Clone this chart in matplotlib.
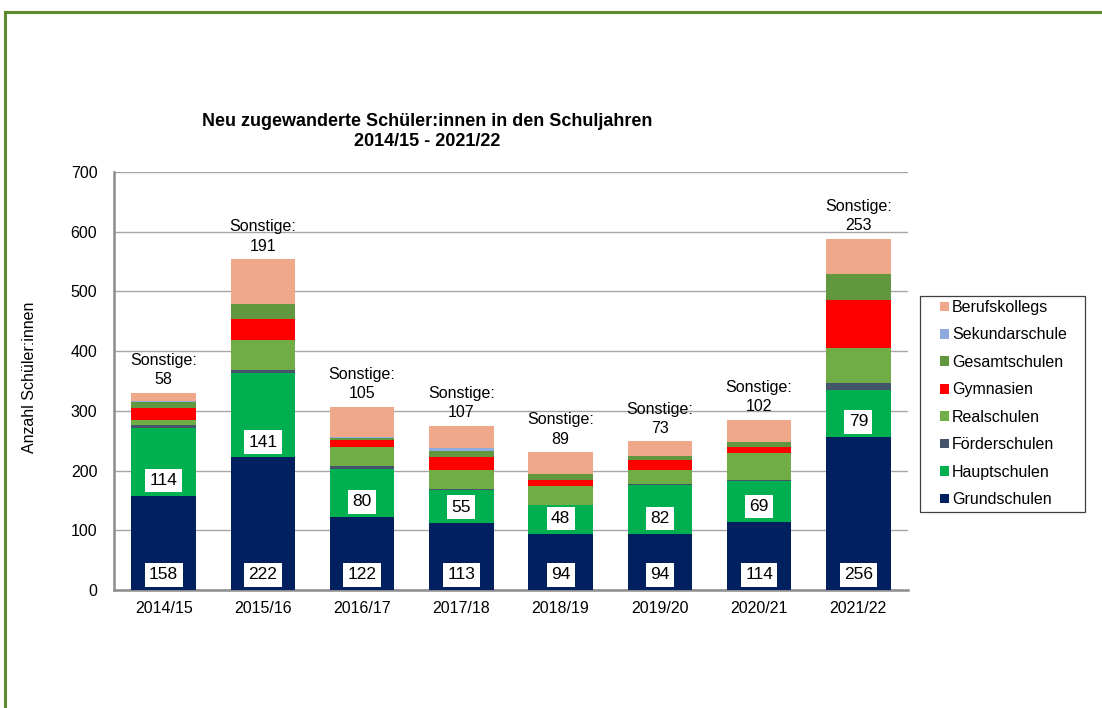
import matplotlib
matplotlib.use("Agg")
import matplotlib.pyplot as plt
from matplotlib.patches import Patch, Rectangle
from matplotlib.lines import Line2D
import numpy as np

plt.rcParams["font.family"] = ["Liberation Sans", "DejaVu Sans"]

# Schuljahre und Schülerzahlen je Schulform
years = ["2014/15", "2015/16", "2016/17", "2017/18", "2018/19", "2019/20", "2020/21", "2021/22"]
grundschulen = [158, 222, 122, 113, 94, 94, 114, 256]
hauptschulen = [114, 141, 80, 55, 48, 82, 69, 79]
foerderschulen = [4, 6, 5, 1, 1, 2, 1, 12]
realschulen = [8, 50, 33, 32, 31, 23, 46, 59]
gymnasien = [20, 35, 11, 22, 10, 16, 10, 80]
gesamtschulen = [10, 25, 4, 10, 10, 7, 8, 43]
sekundarschule = [2, 0, 2, 4, 0, 0, 0, 0]
berufskollegs = [14, 75, 50, 38, 37, 25, 37, 59]

# stacking order from bottom to top
series = [
    ("Grundschulen", grundschulen, "#002060"),
    ("Hauptschulen", hauptschulen, "#00B050"),
    ("Förderschulen", foerderschulen, "#44546A"),
    ("Realschulen", realschulen, "#70AD47"),
    ("Gymnasien", gymnasien, "#FF0000"),
    ("Gesamtschulen", gesamtschulen, "#61973F"),
    ("Sekundarschule", sekundarschule, "#8FAADC"),
    ("Berufskollegs", berufskollegs, "#F0A88A"),
]

W, H = 1102, 708
fig = plt.figure(figsize=(W / 100, H / 100), dpi=100)
ax = fig.add_axes([114 / W, 1 - 590 / H, (908 - 114) / W, (590 - 172) / H])

x = np.arange(len(years))
bottom = np.zeros(len(years))
for name, vals, col in series:
    ax.bar(x, vals, width=0.65, bottom=bottom, color=col, linewidth=0, zorder=3)
    bottom += np.array(vals)
totals = bottom

# white boxed labels for Grundschulen and Hauptschulen
box = dict(boxstyle="square,pad=0.25", facecolor="white", edgecolor="none")
grund = np.array(grundschulen)
for i in x:
    ax.annotate(str(grundschulen[i]), (i, 0), xytext=(0, 11), textcoords="offset points",
                ha="center", va="center", fontsize=12.5, bbox=box, zorder=5)
    ax.annotate(str(hauptschulen[i]), (i, grund[i]), xytext=(0, 11), textcoords="offset points",
                ha="center", va="center", fontsize=12.5, bbox=box, zorder=5)
    sonst = totals[i] - grundschulen[i] - hauptschulen[i]
    ax.annotate(f"Sonstige:\n{int(sonst)}", (i, totals[i]), xytext=(0, 4), textcoords="offset points",
                ha="center", va="bottom", fontsize=11.5, linespacing=1.35, zorder=5)

ax.set_xlim(-0.5, len(years) - 0.5)
ax.set_ylim(0, 700)
ax.set_yticks(range(0, 701, 100))
ax.set_xticks(x)
ax.set_xticklabels(years)
ax.tick_params(axis="both", length=0, labelsize=11.5)
ax.tick_params(axis="y", pad=12)
ax.tick_params(axis="x", pad=8)
ax.yaxis.grid(True, color="#A6A6A6", linewidth=1.0, zorder=0)
for s in ["top", "right"]:
    ax.spines[s].set_visible(False)
for s in ["left", "bottom"]:
    ax.spines[s].set_color("#8C8C8C")
    ax.spines[s].set_linewidth(1.8)
ax.set_ylabel("Anzahl Schüler:innen", fontsize=11.5)
ax.yaxis.set_label_coords(-0.097, 0.51)

fig.text(427 / W, 1 - 122 / H, "Neu zugewanderte Schüler:innen in den Schuljahren",
         ha="center", va="center", fontsize=13, fontweight="bold")
fig.text(427 / W, 1 - 141 / H, "2014/15 - 2021/22",
         ha="center", va="center", fontsize=13, fontweight="bold")

handles = [Patch(facecolor=col, edgecolor="none", label=name) for name, vals, col in series[::-1]]
leg = fig.legend(handles=handles, loc="upper left", bbox_to_anchor=(940 / W, 1 - 300 / H),
                 fontsize=11.5, frameon=False, handlelength=0.55, handleheight=0.55,
                 handletextpad=0.2, labelspacing=0.78, borderpad=0, borderaxespad=0)
fig.add_artist(Rectangle((920 / W, 1 - 512 / H), 165 / W, 216 / H, transform=fig.transFigure,
                         fill=False, edgecolor="#404040", linewidth=0.9))

# green frame of the original graphic
fig.add_artist(Line2D([4.5 / W, 4.5 / W], [0, 1 - 11.5 / H], color="#5E8A2F", linewidth=2.2, transform=fig.transFigure))
fig.add_artist(Line2D([4.5 / W, 1], [1 - 11.5 / H, 1 - 11.5 / H], color="#5E8A2F", linewidth=2.2, transform=fig.transFigure))

fig.savefig("out.png", dpi=100)
